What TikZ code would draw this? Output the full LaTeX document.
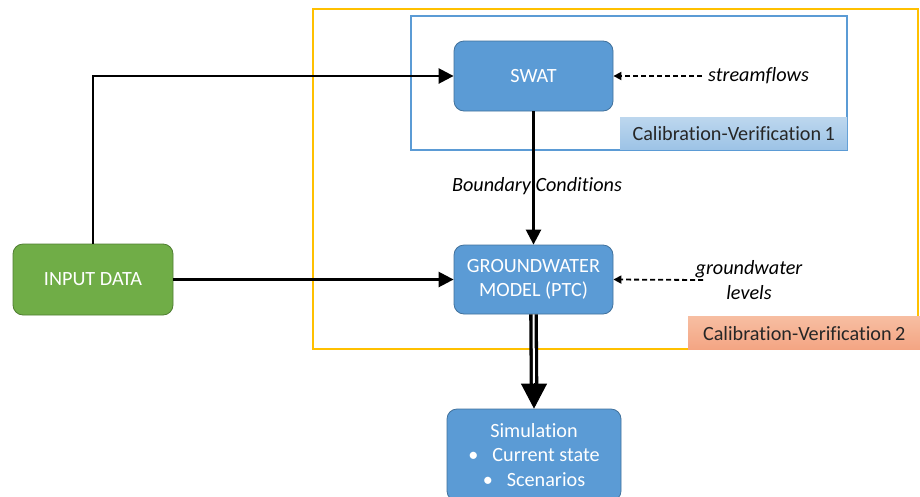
\documentclass[tikz,border=0pt]{standalone}
\usepackage{fontspec}
\setmainfont{Carlito}[Ligatures=NoCommon]
\usetikzlibrary{arrows.meta,calc}
\definecolor{nodeblue}{HTML}{5B9BD5}
\definecolor{nodeblueb}{HTML}{41719C}
\definecolor{nodegreen}{HTML}{70AD47}
\definecolor{nodegreenb}{HTML}{507E32}
\definecolor{boxyellow}{HTML}{FFC000}
\definecolor{boxblue}{HTML}{5B9BD5}
\definecolor{labblueT}{HTML}{BDD7EE}
\definecolor{labblueB}{HTML}{9DC3E6}
\definecolor{labredT}{HTML}{F7BEA2}
\definecolor{labredB}{HTML}{F4A583}
\definecolor{labtext}{HTML}{262626}
\tikzset{
  bluebox/.style={draw=nodeblueb, line width=0.8pt, fill=nodeblue, rounded corners=10pt, text=white, align=center, inner sep=0pt},
  greenbox/.style={draw=nodegreenb, line width=0.8pt, fill=nodegreen, rounded corners=10pt, text=white, align=center, inner sep=0pt},
  mainarrow/.style={line width=2.5pt, -{Triangle[length=15pt,width=15pt]}},
  dasharrow/.style={line width=1.8pt, dash pattern=on 5pt off 3pt, -{Triangle[length=8pt,width=8pt]}},
  calllabel/.style={text=labtext, inner sep=0pt, anchor=north west},
  itlabel/.style={font=\fontsize{20.2}{24}\selectfont\itshape, inner sep=0pt, align=center},
}
\begin{document}
\begin{tikzpicture}[x=1pt,y=-1pt, font=\fontsize{20.2}{24.5}\selectfont]
\useasboundingbox (0,0) rectangle (920,496);
\clip (0,0) rectangle (920,496);
\fill[white] (0,0) rectangle (920,496);

% group frames
\draw[boxyellow, line width=1.5pt] (313,9) rectangle (918,349);
\draw[boxblue, line width=1.5pt] (411,16) rectangle (847,150);

% calibration labels
\node[calllabel, minimum width=227pt, minimum height=32pt, top color=labblueT, bottom color=labblueB] (cv1) at (620,117) {};
\node[text=labtext, inner sep=0pt] (cv1t) at (cv1.center) {Calibration-Verification\,1};
\node[calllabel, minimum width=232pt, minimum height=33pt, top color=labredT, bottom color=labredB] (cv2) at (688,316) {};
\node[text=labtext, inner sep=0pt] (cv2t) at ($(cv2.center)+(0,0.5)$) {Calibration-Verification\,2};

% main nodes
\node[bluebox, minimum width=159pt, minimum height=70pt] (swat) at (533.5,76) {SWAT};
\node[bluebox, minimum width=159pt, minimum height=69pt] (gw) at (533.5,279.5) {GROUNDWATER\\MODEL (PTC)};
\node[greenbox, minimum width=160pt, minimum height=71pt] (input) at (93,279.5) {INPUT DATA};
\node[bluebox, minimum width=174pt, minimum height=92pt] (sim) at (534,455)
  {Simulation\\ \textbullet\hspace{14pt}Current state\\ \textbullet\hspace{14pt}Scenarios};

% connectors
\draw[mainarrow] (input.north) |- (swat.west);
\draw[mainarrow] (input.east) -- (gw.west);
\draw[mainarrow] (swat.south) -- (gw.north);
\node[itlabel] (bc) at (537,186) {Boundary Conditions};

\draw[line width=3.3pt, double=white, double distance=2pt] (gw.south) -- ($(sim.north)+(0,-24)$);
\draw[line width=1pt, -{Triangle[length=25pt,width=26pt]}] ($(sim.north)+(0,-26)$) -- (sim.north);

% observation inputs
\coordinate (sfs) at (702,76);
\draw[dasharrow] (sfs) -- (swat.east);
\node[itlabel, anchor=west] (sf) at (708,76) {streamflows};

\coordinate (gls) at (703,280);
\draw[dasharrow] (gls) -- (gw.east);
\node[itlabel, font=\fontsize{20.2}{25}\selectfont\itshape] (gl) at (749,280) {groundwater\\levels};
\end{tikzpicture}
\end{document}
